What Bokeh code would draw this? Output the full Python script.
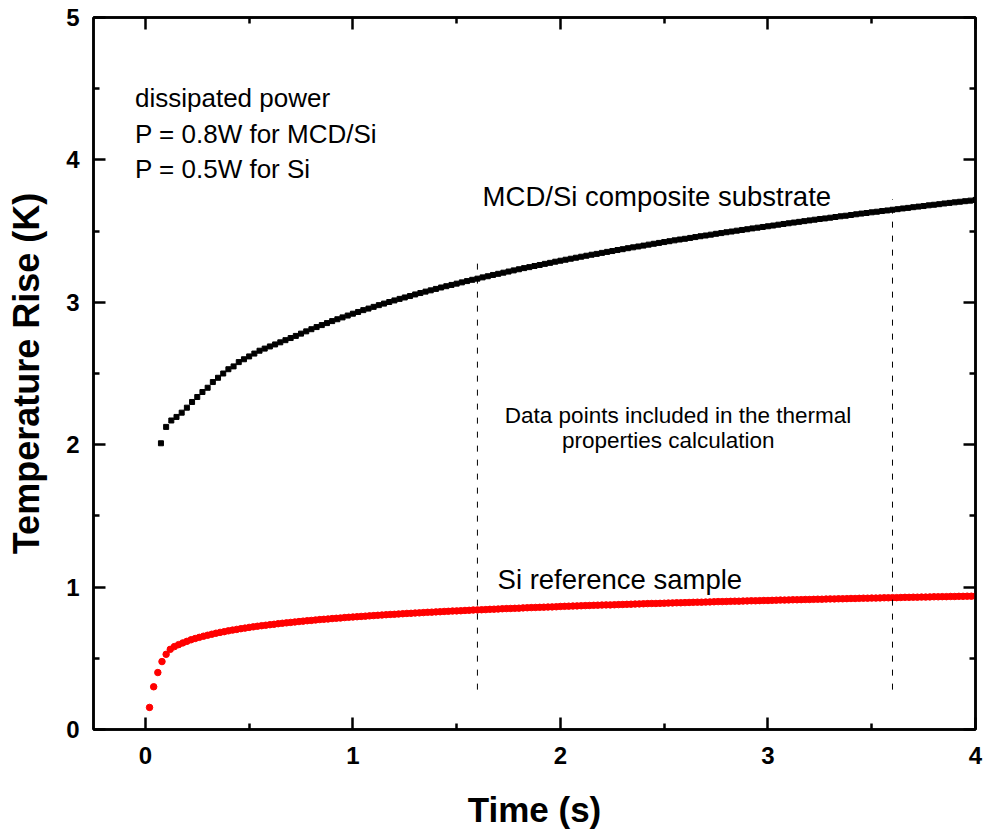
from bokeh.plotting import figure
from bokeh.models import Range1d, LinearAxis, FixedTicker, Label, CustomJSTickFormatter
from bokeh.embed import file_html
from bokeh.resources import INLINE

# ---------------- data ----------------
mcd_time = [
    0.075, 0.100, 0.125, 0.150, 0.175, 0.200, 0.225, 0.250, 0.275, 0.300,
    0.325, 0.350, 0.375, 0.400, 0.425, 0.450, 0.475, 0.500, 0.525, 0.550,
    0.575, 0.600, 0.625, 0.650, 0.675, 0.700, 0.725, 0.750, 0.775, 0.800,
    0.825, 0.850, 0.875, 0.900, 0.925, 0.950, 0.975, 1.000, 1.025, 1.050,
    1.075, 1.100, 1.125, 1.150, 1.175, 1.200, 1.225, 1.250, 1.275, 1.300,
    1.325, 1.350, 1.375, 1.400, 1.425, 1.450, 1.475, 1.500, 1.525, 1.550,
    1.575, 1.600, 1.625, 1.650, 1.675, 1.700, 1.725, 1.750, 1.775, 1.800,
    1.825, 1.850, 1.875, 1.900, 1.925, 1.950, 1.975, 2.000, 2.025, 2.050,
    2.075, 2.100, 2.125, 2.150, 2.175, 2.200, 2.225, 2.250, 2.275, 2.300,
    2.325, 2.350, 2.375, 2.400, 2.425, 2.450, 2.475, 2.500, 2.525, 2.550,
    2.575, 2.600, 2.625, 2.650, 2.675, 2.700, 2.725, 2.750, 2.775, 2.800,
    2.825, 2.850, 2.875, 2.900, 2.925, 2.950, 2.975, 3.000, 3.025, 3.050,
    3.075, 3.100, 3.125, 3.150, 3.175, 3.200, 3.225, 3.250, 3.275, 3.300,
    3.325, 3.350, 3.375, 3.400, 3.425, 3.450, 3.475, 3.500, 3.525, 3.550,
    3.575, 3.600, 3.625, 3.650, 3.675, 3.700, 3.725, 3.750, 3.775, 3.800,
    3.825, 3.850, 3.875, 3.900, 3.925, 3.950, 3.975, 4.000,
]
mcd_rise = [
    2.010, 2.125, 2.170, 2.195, 2.225, 2.260, 2.300, 2.335, 2.370, 2.400,
    2.440, 2.470, 2.500, 2.530, 2.550, 2.580, 2.600, 2.620, 2.640, 2.660,
    2.675, 2.690, 2.704, 2.719, 2.734, 2.749, 2.764, 2.780, 2.796, 2.811,
    2.826, 2.840, 2.854, 2.868, 2.881, 2.894, 2.907, 2.920, 2.932, 2.945,
    2.956, 2.968, 2.980, 2.991, 3.002, 3.013, 3.024, 3.034, 3.044, 3.055,
    3.065, 3.075, 3.084, 3.094, 3.104, 3.113, 3.122, 3.131, 3.140, 3.149,
    3.158, 3.166, 3.175, 3.183, 3.192, 3.200, 3.208, 3.216, 3.224, 3.232,
    3.240, 3.247, 3.255, 3.262, 3.270, 3.277, 3.285, 3.292, 3.299, 3.306,
    3.313, 3.320, 3.327, 3.334, 3.340, 3.347, 3.354, 3.360, 3.367, 3.373,
    3.380, 3.386, 3.392, 3.398, 3.405, 3.411, 3.417, 3.423, 3.429, 3.435,
    3.441, 3.446, 3.452, 3.458, 3.464, 3.469, 3.475, 3.481, 3.486, 3.492,
    3.497, 3.503, 3.508, 3.513, 3.519, 3.524, 3.529, 3.534, 3.539, 3.545,
    3.550, 3.555, 3.560, 3.565, 3.570, 3.575, 3.580, 3.585, 3.589, 3.594,
    3.599, 3.604, 3.608, 3.613, 3.618, 3.623, 3.627, 3.632, 3.636, 3.641,
    3.645, 3.650, 3.654, 3.659, 3.663, 3.668, 3.672, 3.676, 3.681, 3.685,
    3.689, 3.694, 3.698, 3.702, 3.706, 3.710, 3.714, 3.719,
]

si_time = [
    0.02, 0.04, 0.06, 0.08, 0.10, 0.12, 0.14, 0.16, 0.18, 0.20,
    0.22, 0.24, 0.26, 0.28, 0.30, 0.32, 0.34, 0.36, 0.38, 0.40,
    0.42, 0.44, 0.46, 0.48, 0.50, 0.52, 0.54, 0.56, 0.58, 0.60,
    0.62, 0.64, 0.66, 0.68, 0.70, 0.72, 0.74, 0.76, 0.78, 0.80,
    0.82, 0.84, 0.86, 0.88, 0.90, 0.92, 0.94, 0.96, 0.98, 1.00,
    1.02, 1.04, 1.06, 1.08, 1.10, 1.12, 1.14, 1.16, 1.18, 1.20,
    1.22, 1.24, 1.26, 1.28, 1.30, 1.32, 1.34, 1.36, 1.38, 1.40,
    1.42, 1.44, 1.46, 1.48, 1.50, 1.52, 1.54, 1.56, 1.58, 1.60,
    1.62, 1.64, 1.66, 1.68, 1.70, 1.72, 1.74, 1.76, 1.78, 1.80,
    1.82, 1.84, 1.86, 1.88, 1.90, 1.92, 1.94, 1.96, 1.98, 2.00,
    2.02, 2.04, 2.06, 2.08, 2.10, 2.12, 2.14, 2.16, 2.18, 2.20,
    2.22, 2.24, 2.26, 2.28, 2.30, 2.32, 2.34, 2.36, 2.38, 2.40,
    2.42, 2.44, 2.46, 2.48, 2.50, 2.52, 2.54, 2.56, 2.58, 2.60,
    2.62, 2.64, 2.66, 2.68, 2.70, 2.72, 2.74, 2.76, 2.78, 2.80,
    2.82, 2.84, 2.86, 2.88, 2.90, 2.92, 2.94, 2.96, 2.98, 3.00,
    3.02, 3.04, 3.06, 3.08, 3.10, 3.12, 3.14, 3.16, 3.18, 3.20,
    3.22, 3.24, 3.26, 3.28, 3.30, 3.32, 3.34, 3.36, 3.38, 3.40,
    3.42, 3.44, 3.46, 3.48, 3.50, 3.52, 3.54, 3.56, 3.58, 3.60,
    3.62, 3.64, 3.66, 3.68, 3.70, 3.72, 3.74, 3.76, 3.78, 3.80,
    3.82, 3.84, 3.86, 3.88, 3.90, 3.92, 3.94, 3.96, 3.98, 4.00,
]
si_rise = [
    0.155, 0.300, 0.400, 0.477, 0.528, 0.563, 0.582, 0.596, 0.608, 0.619,
    0.630, 0.639, 0.647, 0.655, 0.662, 0.669, 0.676, 0.682, 0.687, 0.693,
    0.698, 0.703, 0.708, 0.712, 0.717, 0.721, 0.725, 0.729, 0.732, 0.736,
    0.739, 0.743, 0.746, 0.749, 0.752, 0.755, 0.758, 0.761, 0.764, 0.766,
    0.769, 0.772, 0.774, 0.776, 0.779, 0.781, 0.783, 0.786, 0.788, 0.790,
    0.792, 0.794, 0.796, 0.798, 0.800, 0.802, 0.804, 0.806, 0.808, 0.809,
    0.811, 0.813, 0.815, 0.816, 0.818, 0.819, 0.821, 0.823, 0.824, 0.826,
    0.827, 0.829, 0.830, 0.832, 0.833, 0.834, 0.836, 0.837, 0.839, 0.840,
    0.841, 0.842, 0.844, 0.845, 0.846, 0.848, 0.849, 0.850, 0.851, 0.852,
    0.854, 0.855, 0.856, 0.857, 0.858, 0.859, 0.860, 0.861, 0.862, 0.864,
    0.865, 0.866, 0.867, 0.868, 0.869, 0.870, 0.871, 0.872, 0.873, 0.874,
    0.875, 0.875, 0.876, 0.877, 0.878, 0.879, 0.880, 0.881, 0.882, 0.883,
    0.884, 0.885, 0.885, 0.886, 0.887, 0.888, 0.889, 0.890, 0.890, 0.891,
    0.892, 0.893, 0.894, 0.894, 0.895, 0.896, 0.897, 0.898, 0.898, 0.899,
    0.900, 0.901, 0.901, 0.902, 0.903, 0.904, 0.904, 0.905, 0.906, 0.906,
    0.907, 0.908, 0.909, 0.909, 0.910, 0.911, 0.911, 0.912, 0.913, 0.913,
    0.914, 0.915, 0.915, 0.916, 0.917, 0.917, 0.918, 0.918, 0.919, 0.920,
    0.920, 0.921, 0.922, 0.922, 0.923, 0.923, 0.924, 0.925, 0.925, 0.926,
    0.926, 0.927, 0.928, 0.928, 0.929, 0.929, 0.930, 0.930, 0.931, 0.932,
    0.932, 0.933, 0.933, 0.934, 0.934, 0.935, 0.935, 0.936, 0.936, 0.937,
]

# fit window markers (vertical dashed lines)
window_time = [1.6, 3.6]
window_low = [0.28, 0.28]
window_high = [3.32, 3.725]

x_ticks = [0, 1, 2, 3, 4]
x_minor = [0.5, 1.5, 2.5, 3.5]
y_ticks = [0, 1, 2, 3, 4, 5]
y_minor = [0.5, 1.5, 2.5, 3.5, 4.5]

FONT = "Liberation Sans"

# ---------------- figure ----------------
p = figure(width=983, height=832, output_backend="svg", toolbar_location=None,
           x_range=Range1d(-0.25, 4.0), y_range=Range1d(0, 5),
           min_border_left=93, min_border_right=8, min_border_top=17,
           min_border_bottom=103, background_fill_color="white",
           border_fill_color="white")
p.grid.visible = False
p.outline_line_color = "black"
p.outline_line_width = 2.5


def style_axis(ax, ticks, minor, show_labels=True):
    ax.ticker = FixedTicker(ticks=ticks, minor_ticks=minor)
    ax.axis_line_width = 2.5
    ax.axis_line_color = "black"
    ax.major_tick_in = 12
    ax.major_tick_out = 0
    ax.major_tick_line_width = 2.5
    ax.major_tick_line_color = "black"
    ax.minor_tick_in = 6
    ax.minor_tick_out = 0
    ax.minor_tick_line_width = 2.5
    ax.minor_tick_line_color = "black"
    ax.major_label_text_font = FONT
    ax.major_label_text_font_style = "bold"
    ax.major_label_text_font_size = "24px"
    ax.major_label_text_color = "black"
    if not show_labels:
        ax.formatter = CustomJSTickFormatter(code="return ''")
        ax.major_label_standoff = 0


xb = p.xaxis[0]
style_axis(xb, x_ticks, x_minor)
xb.major_label_standoff = 17
xb.axis_label = "Time (s)"
xb.axis_label_text_font = FONT
xb.axis_label_text_font_style = "bold"
xb.axis_label_text_font_size = "35px"
xb.axis_label_text_color = "black"
xb.axis_label_standoff = 23

yl = p.yaxis[0]
style_axis(yl, y_ticks, y_minor)
yl.major_label_standoff = 14
yl.axis_label = "Temperature Rise (K)"
yl.axis_label_text_font = FONT
yl.axis_label_text_font_style = "bold"
yl.axis_label_text_font_size = "36px"
yl.axis_label_text_color = "black"
yl.axis_label_standoff = 16

xt = LinearAxis()
style_axis(xt, x_ticks, x_minor, show_labels=False)
p.add_layout(xt, "above")

yr = LinearAxis()
style_axis(yr, y_ticks, y_minor, show_labels=False)
p.add_layout(yr, "right")

# ---------------- data marks ----------------
p.scatter(mcd_time, mcd_rise, marker="square", size=5, color="black")
p.scatter(si_time, si_rise, marker="circle", size=6.5, color="#ff0000")

p.segment(x0=window_time, y0=window_low, x1=window_time, y1=window_high,
          line_color="black", line_width=1, line_dash="6 8")

# ---------------- annotations ----------------
def note(x, y, text, size):
    p.add_layout(Label(x=x, y=y, text=text, text_font=FONT,
                       text_font_size=size, text_color="black",
                       text_baseline="alphabetic", text_align="left"))


note(-0.05, 4.434, "dissipated power", "26px")
note(-0.05, 4.182, "P = 0.8W for MCD/Si", "26px")
note(-0.05, 3.936, "P = 0.5W for Si", "26px")
note(1.625, 3.746, "MCD/Si composite substrate", "27.5px")
note(1.697, 1.050, "Si reference sample", "27.5px")
note(1.732, 2.203, "Data points included in the thermal", "22.5px")
note(2.007, 2.033, "properties calculation", "22.5px")

open("out.html", "w").write(file_html(p, INLINE))
